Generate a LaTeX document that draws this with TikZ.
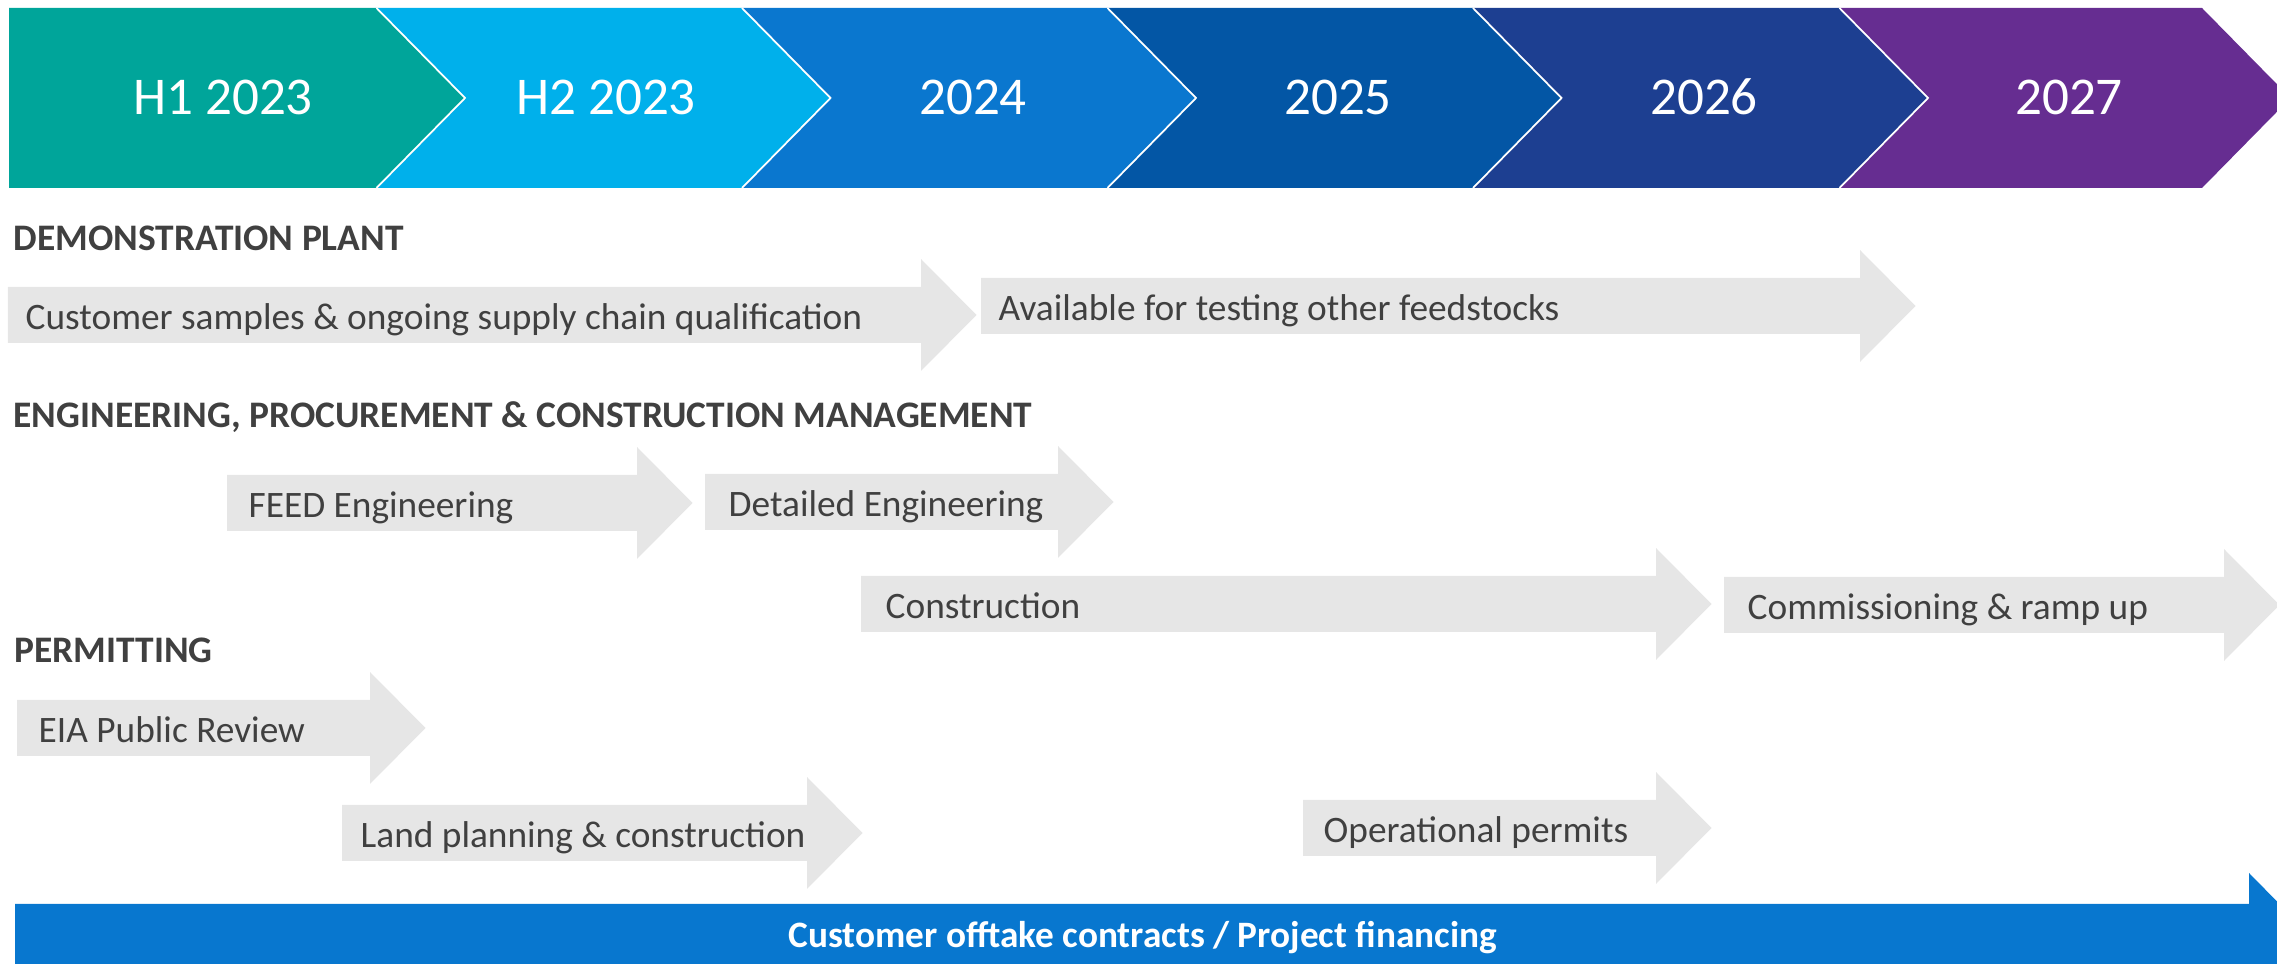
\documentclass[tikz,border=0pt]{standalone}
\usepackage{fontspec}
\setmainfont{Carlito}
\definecolor{yrA}{HTML}{00A59A}
\definecolor{yrB}{HTML}{00B0EB}
\definecolor{yrC}{HTML}{0A77CF}
\definecolor{yrD}{HTML}{0356A5}
\definecolor{yrE}{HTML}{1D3F91}
\definecolor{yrF}{HTML}{662D91}
\definecolor{barblue}{HTML}{0877CF}
\definecolor{arrowgray}{HTML}{E6E6E6}
\definecolor{txtgray}{HTML}{404040}

% grey phase arrow: name, left x, head base x, centre y, text x, label
\newcommand{\phasearrow}[6]{%
  \fill[arrowgray] (#2,#4-28) -- (#3,#4-28) -- (#3,#4-56) -- (#3+55.5,#4)
    -- (#3,#4+56) -- (#3,#4+28) -- (#2,#4+28) -- cycle;
  \node[phasetext] (#1) at (#5,#4+3) {#6};
}
% header chevron: left notch x, right corner x, colour
\newcommand{\yearchevron}[3]{%
  \fill[#3] (#1,8) -- (#2,8) -- (#2+88.5,98) -- (#2,188) -- (#1,188) -- (#1+88.5,98) -- cycle;
  \draw[white,line width=0.5pt] (#1,8) -- (#1+88.5,98) -- (#1,188);
}

\begin{document}
\begin{tikzpicture}[x=0.01cm,y=-0.01cm,
  phasetext/.style={anchor=west,inner sep=0pt,text=txtgray,
    font=\fontsize{10.62}{12}\selectfont,text height=6.7pt,text depth=0pt},
  sectiontext/.style={anchor=west,inner sep=0pt,text=txtgray,
    font=\fontsize{10.65}{12}\selectfont\bfseries,text height=6.7pt,text depth=0pt},
  yeartext/.style={inner sep=0pt,text=white,
    font=\fontsize{15.1}{17}\selectfont,text height=9.5pt,text depth=0pt}]
\useasboundingbox (0,0) rectangle (2277,964);
\clip (0,0) rectangle (2277,964);

% year header
\fill[yrA] (9,8) -- (376.5,8) -- (465,98) -- (376.5,188) -- (9,188) -- cycle;
\yearchevron{376.5}{742}{yrB}
\yearchevron{742}{1107.5}{yrC}
\yearchevron{1107.5}{1473}{yrD}
\yearchevron{1473}{1839.5}{yrE}
\yearchevron{1839.5}{2202}{yrF}
\node[yeartext] (h1) at (223,98) {H1 2023};
\node[yeartext] (h2) at (606,98) {H2 2023};
\node[yeartext] (y24) at (973,98) {2024};
\node[yeartext] (y25) at (1338,98) {2025};
\node[yeartext] (y26) at (1704,98) {2026};
\node[yeartext] (y27) at (2069,98) {2027};

% section headings
\node[sectiontext] (demo) at (13,239) {DEMONSTRATION PLANT};
\node[sectiontext] (epcm) at (13,416) {ENGINEERING, PROCUREMENT \& CONSTRUCTION MANAGEMENT};
\node[sectiontext] (perm) at (14,651) {PERMITTING};

% demonstration plant
\phasearrow{samples}{8}{921}{315}{25}{Customer samples \& ongoing supply chain qualification}
\phasearrow{testing}{981}{1860}{306}{998}{Available for testing other feedstocks}

% EPCM
\phasearrow{feed}{227}{637}{503}{248}{FEED Engineering}
\phasearrow{detailed}{705}{1058}{502}{728}{Detailed Engineering}
\phasearrow{constr}{861}{1656}{604}{885}{Construction}
\phasearrow{commis}{1724}{2224}{605}{1747}{Commissioning \& ramp up}

% permitting
\phasearrow{eia}{17}{370}{728}{38}{EIA Public Review}
\phasearrow{land}{342}{807}{833}{360}{Land planning \& construction}
\phasearrow{oper}{1303}{1656}{828}{1323}{Operational permits}

% financing bar
\fill[barblue] (15,904) -- (2249,904) -- (2249,873) -- (2310,935) -- (2249,997)
  -- (2249,966) -- (15,966) -- cycle;
\node[inner sep=0pt,text=white,font=\fontsize{10.6}{12}\selectfont\bfseries,
  text height=6.7pt,text depth=0pt] (fin) at (1143,936)
  {Customer offtake contracts / Project financing};
\end{tikzpicture}
\end{document}
